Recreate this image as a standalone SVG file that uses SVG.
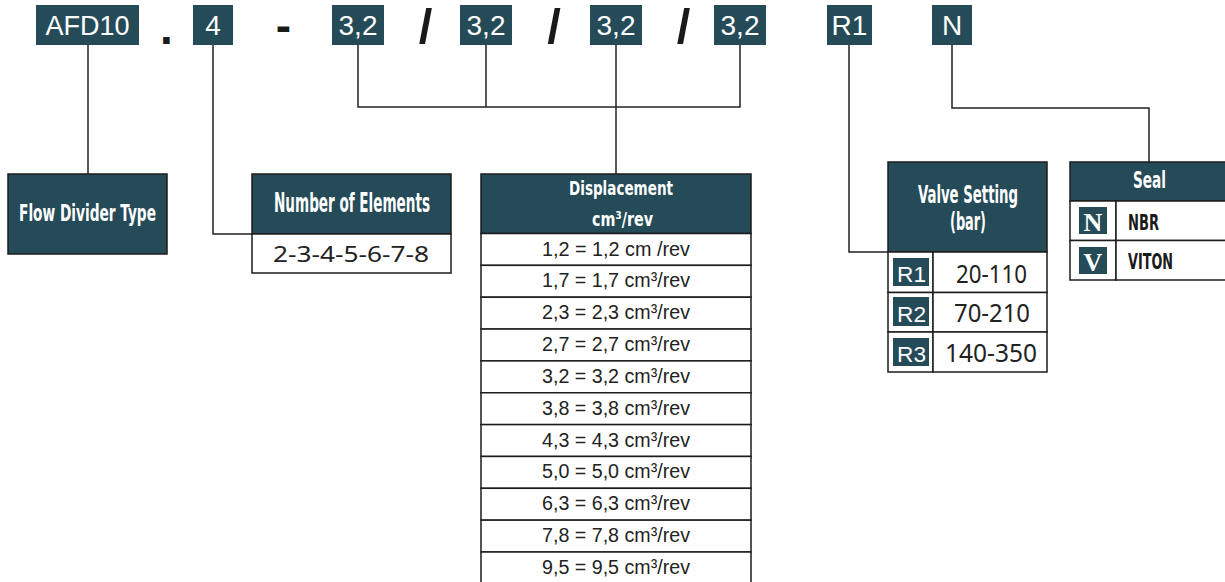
<svg xmlns="http://www.w3.org/2000/svg" width="1225" height="582" viewBox="0 0 1225 582">
<style>
.bg{fill:#ffffff}
.tile{fill:#254b59}
.hdr{fill:#254b59;stroke:#1c1c1c;stroke-width:1.5}
.cell{fill:#ffffff;stroke:#1c1c1c;stroke-width:1.5}
.conn{fill:none;stroke:#222222;stroke-width:1.5}
.code{font-family:"Liberation Sans",Arial,sans-serif;font-size:28px;fill:#ffffff;text-anchor:middle}
.sep{font-family:"Liberation Sans",Arial,sans-serif;fill:#1a1a1a;text-anchor:middle}
.cond{font-family:"Liberation Sans Narrow","DejaVu Sans Condensed","Liberation Sans",sans-serif;font-weight:bold;fill:#ffffff}
.condk{font-family:"Liberation Sans Narrow","DejaVu Sans Condensed","Liberation Sans",sans-serif;font-weight:bold;fill:#1a1a1a}
.val{font-family:"Noto Sans","Liberation Sans",sans-serif;fill:#222222}
.row{font-family:"Liberation Sans",Arial,sans-serif;font-size:20px;fill:#222222}
.rl{font-family:"Liberation Sans",Arial,sans-serif;font-size:22px;fill:#ffffff}
.ser{font-family:"Liberation Serif","Times New Roman",serif;font-weight:bold;font-size:26px;fill:#ffffff;text-anchor:middle}
</style>
<rect class="bg" x="0" y="0" width="1225" height="582"/>

<g id="code-afd10"><rect class="tile" x="36" y="5" width="103" height="40"/><text class="code" x="87.5" y="35" textLength="84" lengthAdjust="spacingAndGlyphs">AFD10</text></g>
<g id="sep-dot"><text class="sep" x="166.5" y="44" font-size="46" font-weight="bold">.</text></g>
<g id="code-4"><rect class="tile" x="193" y="5" width="40" height="40"/><text class="code" x="213" y="35">4</text></g>
<g id="sep-dash"><text class="sep" x="283.5" y="41" font-size="46" font-weight="bold">-</text></g>
<g id="code-32a"><rect class="tile" x="332" y="5" width="52" height="40"/><text class="code" x="358" y="35">3,2</text></g>
<g id="sep-slash1"><text class="sep" x="425.5" y="42.5" font-size="49" font-weight="bold">/</text></g>
<g id="code-32b"><rect class="tile" x="460" y="5" width="52" height="40"/><text class="code" x="486" y="35">3,2</text></g>
<g id="sep-slash2"><text class="sep" x="554" y="42.5" font-size="49" font-weight="bold">/</text></g>
<g id="code-32c"><rect class="tile" x="590" y="5" width="52" height="40"/><text class="code" x="616" y="35">3,2</text></g>
<g id="sep-slash3"><text class="sep" x="683.5" y="42.5" font-size="49" font-weight="bold">/</text></g>
<g id="code-32d"><rect class="tile" x="714" y="5" width="52" height="40"/><text class="code" x="740" y="35">3,2</text></g>
<g id="code-r1"><rect class="tile" x="827" y="5" width="45" height="40"/><text class="code" x="849.5" y="35">R1</text></g>
<g id="code-n"><rect class="tile" x="932" y="5" width="40" height="40"/><text class="code" x="952" y="35">N</text></g>

<g id="connectors">
<polyline class="conn" points="88,45 88,174"/>
<polyline class="conn" points="213,45 213,234 252,234"/>
<polyline class="conn" points="358,45 358,107 740,107 740,45"/>
<polyline class="conn" points="486,45 486,107"/>
<polyline class="conn" points="616,45 616,174"/>
<polyline class="conn" points="849,45 849,252 888,252"/>
<polyline class="conn" points="952,45 952,108 1149,108 1149,162"/>
</g>

<g id="flow-divider-type">
<rect class="hdr" x="8" y="174" width="159" height="80"/>
<text class="cond" x="19" y="221" font-size="23" textLength="137" lengthAdjust="spacingAndGlyphs">Flow Divider Type</text>
</g>

<g id="number-of-elements">
<rect class="hdr" x="252" y="174" width="199" height="60"/>
<rect class="cell" x="252" y="234" width="199" height="39"/>
<text class="cond" x="274" y="212" font-size="27" textLength="156" lengthAdjust="spacingAndGlyphs">Number of Elements</text>
<text class="val" x="273" y="262" font-size="21" textLength="156" lengthAdjust="spacingAndGlyphs">2-3-4-5-6-7-8</text>
</g>

<g id="displacement">
<rect class="hdr" x="481" y="174" width="270" height="59.5"/>
<text class="cond" x="569" y="195" font-size="20" textLength="104" lengthAdjust="spacingAndGlyphs">Displacement</text>
<text class="cond" x="592" y="226" font-size="20" textLength="61" lengthAdjust="spacingAndGlyphs">cm³/rev</text>
<rect class="cell" x="481" y="233.5" width="270" height="31.85"/>
<rect class="cell" x="481" y="265.35" width="270" height="31.85"/>
<rect class="cell" x="481" y="297.2" width="270" height="31.85"/>
<rect class="cell" x="481" y="329.05" width="270" height="31.85"/>
<rect class="cell" x="481" y="360.9" width="270" height="31.85"/>
<rect class="cell" x="481" y="392.75" width="270" height="31.85"/>
<rect class="cell" x="481" y="424.6" width="270" height="31.85"/>
<rect class="cell" x="481" y="456.45" width="270" height="31.85"/>
<rect class="cell" x="481" y="488.3" width="270" height="31.85"/>
<rect class="cell" x="481" y="520.15" width="270" height="31.85"/>
<rect class="cell" x="481" y="552" width="270" height="40"/>
<text class="row" x="542" y="255.5" textLength="148" lengthAdjust="spacingAndGlyphs">1,2 = 1,2 cm /rev</text>
<text class="row" x="542" y="287.3" textLength="148" lengthAdjust="spacingAndGlyphs">1,7 = 1,7 cm³/rev</text>
<text class="row" x="542" y="319.2" textLength="148" lengthAdjust="spacingAndGlyphs">2,3 = 2,3 cm³/rev</text>
<text class="row" x="542" y="351" textLength="148" lengthAdjust="spacingAndGlyphs">2,7 = 2,7 cm³/rev</text>
<text class="row" x="542" y="382.9" textLength="148" lengthAdjust="spacingAndGlyphs">3,2 = 3,2 cm³/rev</text>
<text class="row" x="542" y="414.7" textLength="148" lengthAdjust="spacingAndGlyphs">3,8 = 3,8 cm³/rev</text>
<text class="row" x="542" y="446.6" textLength="148" lengthAdjust="spacingAndGlyphs">4,3 = 4,3 cm³/rev</text>
<text class="row" x="542" y="478.4" textLength="148" lengthAdjust="spacingAndGlyphs">5,0 = 5,0 cm³/rev</text>
<text class="row" x="542" y="510.3" textLength="148" lengthAdjust="spacingAndGlyphs">6,3 = 6,3 cm³/rev</text>
<text class="row" x="542" y="542.1" textLength="148" lengthAdjust="spacingAndGlyphs">7,8 = 7,8 cm³/rev</text>
<text class="row" x="542" y="574" textLength="148" lengthAdjust="spacingAndGlyphs">9,5 = 9,5 cm³/rev</text>
</g>

<g id="valve-setting">
<rect class="hdr" x="888" y="162" width="159" height="90"/>
<text class="cond" x="918" y="203" font-size="25" textLength="100" lengthAdjust="spacingAndGlyphs">Valve Setting</text>
<text class="cond" x="950" y="230" font-size="25" textLength="36" lengthAdjust="spacingAndGlyphs">(bar)</text>
<rect class="cell" x="888" y="252" width="45" height="40.5"/>
<rect class="cell" x="933" y="252" width="114" height="40.5"/>
<rect class="cell" x="888" y="292.5" width="45" height="39.5"/>
<rect class="cell" x="933" y="292.5" width="114" height="39.5"/>
<rect class="cell" x="888" y="332" width="45" height="40"/>
<rect class="cell" x="933" y="332" width="114" height="40"/>
<rect class="tile" x="893" y="258" width="36" height="28"/>
<rect class="tile" x="893" y="297" width="36" height="29"/>
<rect class="tile" x="893" y="338" width="36" height="28"/>
<text class="rl" x="897" y="282" textLength="29" lengthAdjust="spacingAndGlyphs">R1</text>
<text class="rl" x="897" y="321.5" textLength="29" lengthAdjust="spacingAndGlyphs">R2</text>
<text class="rl" x="897" y="362" textLength="29" lengthAdjust="spacingAndGlyphs">R3</text>
<text class="val" x="956" y="283" font-size="26" textLength="71" lengthAdjust="spacingAndGlyphs">20-110</text>
<text class="val" x="954" y="322" font-size="26" textLength="76" lengthAdjust="spacingAndGlyphs">70-210</text>
<text class="val" x="945" y="362" font-size="26" textLength="92" lengthAdjust="spacingAndGlyphs">140-350</text>
</g>

<g id="seal">
<rect class="hdr" x="1070" y="162" width="165" height="39"/>
<text class="cond" x="1133" y="187.5" font-size="23" textLength="33" lengthAdjust="spacingAndGlyphs">Seal</text>
<rect class="cell" x="1070" y="201" width="46" height="39.5"/>
<rect class="cell" x="1116" y="201" width="119" height="39.5"/>
<rect class="cell" x="1070" y="240.5" width="46" height="39.5"/>
<rect class="cell" x="1116" y="240.5" width="119" height="39.5"/>
<rect class="tile" x="1079" y="207" width="28" height="27"/>
<rect class="tile" x="1079" y="247" width="28" height="27"/>
<text class="ser" x="1093" y="231">N</text>
<text class="ser" x="1093" y="270.5">V</text>
<text class="condk" x="1128" y="230" font-size="22" textLength="31" lengthAdjust="spacingAndGlyphs">NBR</text>
<text class="condk" x="1128" y="269" font-size="22" textLength="45" lengthAdjust="spacingAndGlyphs">VITON</text>
</g>
</svg>
